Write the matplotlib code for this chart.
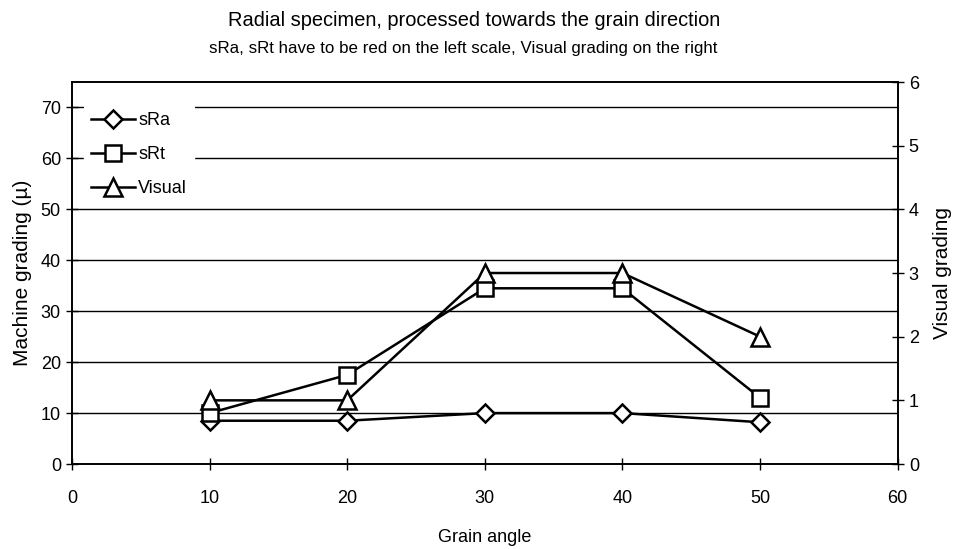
import matplotlib.pyplot as plt

plt.rcParams['font.family'] = ['Liberation Sans', 'DejaVu Sans']

# values
angles = [10, 20, 30, 40, 50]
sra = [8.5, 8.5, 10.0, 10.0, 8.2]
srt = [10.0, 17.5, 34.5, 34.5, 13.0]
visual = [1, 1, 3, 3, 2]

left_ticks = [0, 10, 20, 30, 40, 50, 60, 70]
right_ticks = [0, 1, 2, 3, 4, 5, 6]
x_ticks = [0, 10, 20, 30, 40, 50, 60]


def main() -> None:
    fig = plt.figure(figsize=(9.56, 5.49), dpi=100)
    ax = fig.add_axes([0.0753, 0.1548, 0.8637, 0.6958])
    ax2 = ax.twinx()

    for y in left_ticks[1:]:
        ax.axhline(y, color="black", linewidth=1.0, zorder=0)

    mk = dict(color="black", linewidth=1.8, markerfacecolor="white",
              markeredgecolor="black", markeredgewidth=1.8)
    l1, = ax.plot(angles, sra, marker="D", markersize=9, label="sRa", zorder=3, **mk)
    l2, = ax.plot(angles, srt, marker="s", markersize=12, label="sRt", zorder=3, **mk)
    l3, = ax2.plot(angles, visual, marker="^", markersize=13, label="Visual", zorder=3, **mk)

    ax.set_xlim(0, 60)
    ax.set_ylim(0, 75)
    ax2.set_ylim(0, 6)
    ax.set_xticks(x_ticks)
    ax.set_yticks(left_ticks)
    ax2.set_yticks(right_ticks)

    for a in (ax, ax2):
        for s in a.spines.values():
            s.set_linewidth(1.2)
        a.tick_params(direction="inout", length=9, width=1.0, labelsize=13)
    ax.tick_params(axis="x", pad=14)

    ax.set_xlabel("Grain angle", fontsize=13, labelpad=16)
    ax.set_ylabel("Machine grading (\u00b5)", fontsize=15, labelpad=6)
    ax2.set_ylabel("Visual grading", fontsize=15, labelpad=10)

    fig.text(0.496, 0.963, "Radial specimen, processed towards the grain direction",
             ha="center", va="center", fontsize=14.4)
    fig.text(0.485, 0.912, "sRa, sRt have to be red on the left scale, Visual grading on the right",
             ha="center", va="center", fontsize=12.2)

    leg = ax2.legend(handles=[l1, l2, l3], loc="upper left", bbox_to_anchor=(0.008, 0.955),
                     frameon=True, fontsize=13, handlelength=2.4, handletextpad=0.2,
                     labelspacing=0.95, borderaxespad=0.3)
    leg.get_frame().set_edgecolor("white")
    leg.get_frame().set_facecolor("white")
    leg.get_frame().set_alpha(1.0)

    fig.savefig("out.png", dpi=100)


if __name__ == "__main__":
    main()
